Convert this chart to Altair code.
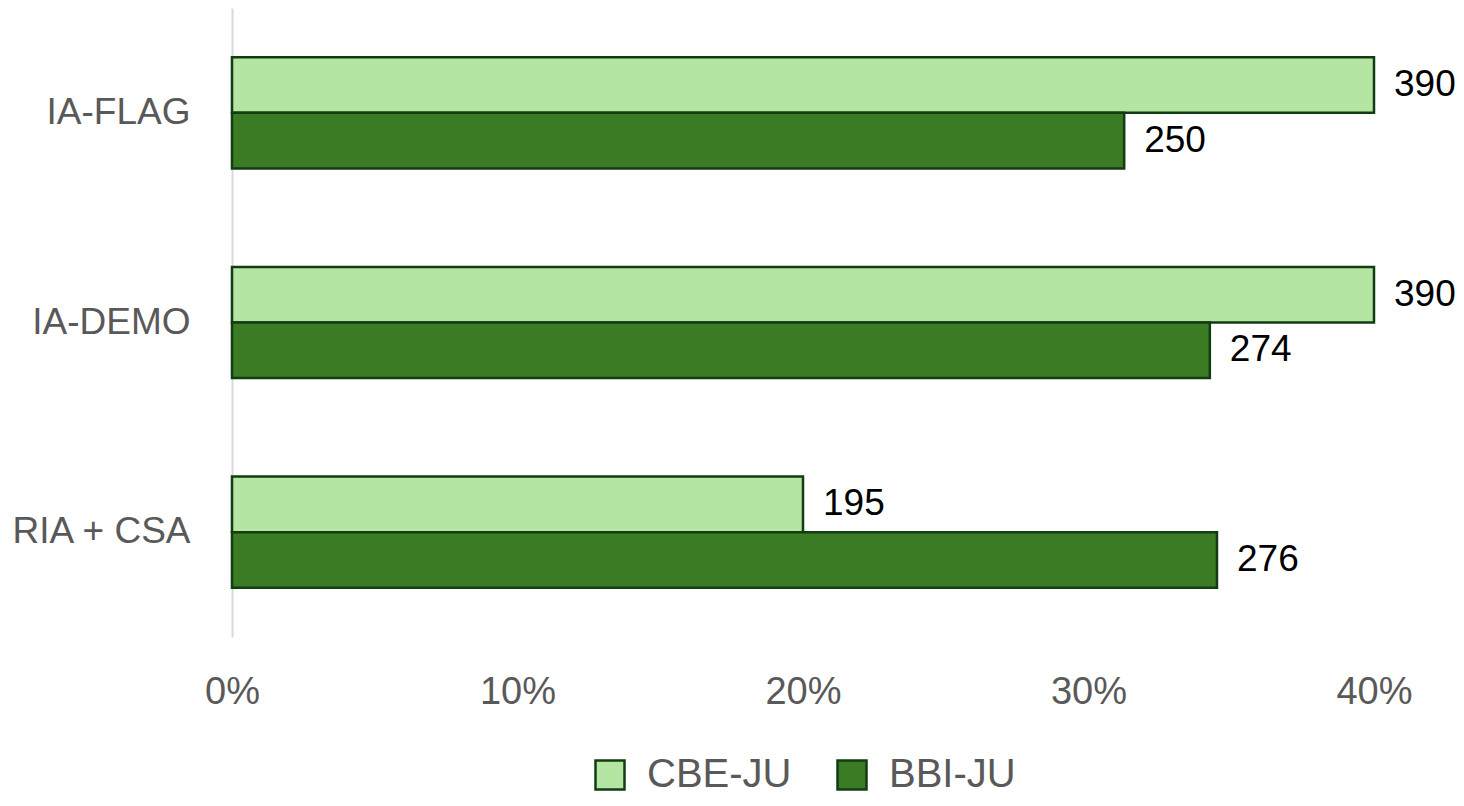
import altair as alt
import pandas as pd

categories = ["IA-FLAG", "IA-DEMO", "RIA + CSA"]
series = ["CBE-JU", "BBI-JU"]
cbe_counts = [390, 390, 195]
bbi_counts = [250, 274, 276]
x_ticks = [0, 0.1, 0.2, 0.3, 0.4]

rows = []
for i, c in enumerate(categories):
    rows.append({"category": c, "series": "CBE-JU", "order": 0, "count": cbe_counts[i]})
    rows.append({"category": c, "series": "BBI-JU", "order": 1, "count": bbi_counts[i]})
df = pd.DataFrame(rows)

FONT = "Liberation Sans"
GRAY = "#595959"
STROKE = "#123c12"

base = alt.Chart(df).transform_joinaggregate(
    total="sum(count)", groupby=["series"]
).transform_calculate(
    pct="datum.count / datum.total"
)

y_enc = alt.Y(
    "category:N",
    sort=categories,
    scale=alt.Scale(paddingInner=0.47, paddingOuter=0.235),
    axis=alt.Axis(
        title=None,
        ticks=False,
        domain=True,
        domainColor="#d9d9d9",
        domainWidth=2,
        labelFont=FONT,
        labelFontSize=37,
        labelColor=GRAY,
        labelPadding=42,
        labelLimit=300,
        grid=False,
    ),
)
yoff = alt.YOffset("order:O", scale=alt.Scale(paddingInner=0, paddingOuter=0))

x_enc = alt.X(
    "pct:Q",
    scale=alt.Scale(domain=[0, 0.4], nice=False),
    axis=alt.Axis(
        title=None,
        values=x_ticks,
        format="%",
        ticks=False,
        domain=False,
        grid=False,
        labelFlush=False,
        labelFont=FONT,
        labelFontSize=38,
        labelColor=GRAY,
        labelPadding=36,
    ),
)

bars = base.mark_bar(stroke=STROKE, strokeWidth=2.5).encode(
    x=x_enc,
    y=y_enc,
    yOffset=yoff,
    fill=alt.Fill(
        "series:N",
        sort=series,
        scale=alt.Scale(domain=series, range=["#b4e5a2", "#3b7b24"]),
        legend=alt.Legend(
            title=None,
            orient="none",
            direction="horizontal",
            legendX=358,
            legendY=747,
            symbolType="square",
            symbolSize=841,
            symbolStrokeColor=STROKE,
            symbolStrokeWidth=2.5,
            labelFont=FONT,
            labelFontSize=40,
            labelColor=GRAY,
            labelOffset=17,
            columnPadding=40,
            padding=0,
        ),
    ),
)

labels = base.mark_text(
    align="left", baseline="middle", dx=20, font=FONT, fontSize=37, color="#000000"
).encode(
    x="pct:Q",
    y=alt.Y("category:N", sort=categories),
    yOffset=yoff,
    text="count:Q",
)

chart = alt.layer(bars, labels).properties(
    width=1142,
    height=629,
    autosize=alt.AutoSizeParams(type="none"),
    padding={"left": 224, "top": 0, "right": 82, "bottom": 161},
).configure_view(stroke=None)

chart.save("out.html", embed_options={"renderer": "svg", "actions": False})
